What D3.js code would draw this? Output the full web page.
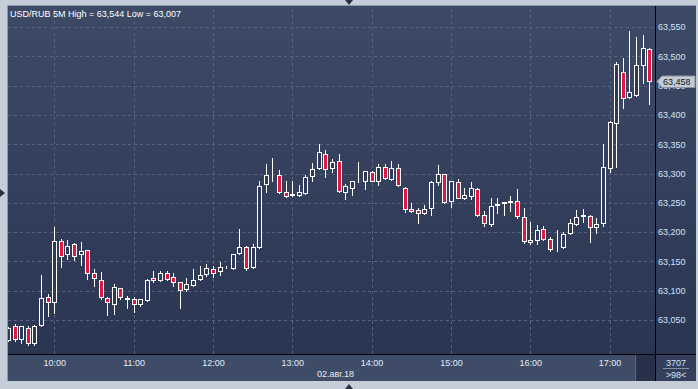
<!DOCTYPE html>
<html>
<head>
<meta charset="utf-8">
<script src="https://cdn.jsdelivr.net/npm/d3@7"></script>
<style>
  body { margin: 0; background: #c4cdd8; }
  svg { display: block; font-family: "Liberation Sans", Arial, sans-serif; }
</style>
</head>
<body>
<svg width="698" height="389"></svg>
<script>
// 5-minute candles, 02.08.2018, first one at 09:25
var opens  = [63.016,63.039,63.017,63.037,63.010,63.041,63.090,63.080,63.185,63.162,
              63.180,63.162,63.169,63.131,63.118,63.087,63.078,63.104,63.086,63.086,
              63.078,63.084,63.121,63.118,63.131,63.123,63.114,63.103,63.109,63.120,
              63.128,63.137,63.133,63.140,63.138,63.164,63.175,63.141,63.174,63.282,
              63.297,63.297,63.268,63.264,63.263,63.266,63.295,63.309,63.333,63.309,
              63.321,63.269,63.276,63.287,63.287,63.302,63.287,63.311,63.290,63.309,
              63.276,63.239,63.237,63.232,63.241,63.285,63.299,63.253,63.285,63.258,
              63.261,63.273,63.229,63.213,63.247,63.250,63.252,63.253,63.225,63.183,
              63.186,63.205,63.189,63.174,63.174,63.198,63.213,63.228,63.227,63.208,
              63.215,63.309,63.387,63.473,63.430,63.434,63.486,63.512];
var highs  = [63.038,63.043,63.040,63.040,63.041,63.127,63.094,63.209,63.189,63.186,
              63.181,63.183,63.170,63.137,63.132,63.090,63.111,63.105,63.091,63.089,
              63.086,63.120,63.134,63.134,63.133,63.131,63.115,63.121,63.137,63.142,
              63.146,63.142,63.149,63.143,63.163,63.206,63.176,63.180,63.288,63.316,
              63.326,63.306,63.288,63.288,63.280,63.297,63.318,63.351,63.340,63.324,
              63.334,63.282,63.288,63.319,63.305,63.304,63.317,63.317,63.321,63.316,
              63.277,63.249,63.241,63.246,63.288,63.314,63.300,63.287,63.290,63.276,
              63.285,63.275,63.236,63.258,63.258,63.252,63.261,63.273,63.241,63.217,
              63.212,63.210,63.191,63.203,63.200,63.222,63.237,63.239,63.229,63.224,
              63.350,63.390,63.491,63.497,63.544,63.533,63.536,63.514];
var lows   = [63.014,63.014,63.010,63.008,63.007,63.040,63.057,63.062,63.141,63.154,
              63.153,63.144,63.120,63.108,63.085,63.059,63.061,63.086,63.071,63.064,
              63.074,63.083,63.114,63.117,63.119,63.108,63.070,63.099,63.108,63.118,
              63.125,63.124,63.127,63.139,63.137,63.163,63.135,63.139,63.173,63.268,
              63.288,63.267,63.260,63.261,63.262,63.265,63.288,63.308,63.294,63.303,
              63.268,63.257,63.263,63.286,63.273,63.287,63.280,63.291,63.289,63.278,
              63.234,63.235,63.215,63.231,63.229,63.280,63.250,63.243,63.258,63.257,
              63.256,63.228,63.210,63.210,63.232,63.229,63.236,63.224,63.181,63.179,
              63.179,63.187,63.167,63.167,63.173,63.197,63.212,63.217,63.183,63.198,
              63.210,63.302,63.311,63.411,63.429,63.433,63.454,63.418];
var closes = [63.037,63.017,63.039,63.011,63.039,63.087,63.080,63.184,63.160,63.177,
              63.160,63.167,63.130,63.121,63.089,63.080,63.106,63.089,63.087,63.077,
              63.085,63.119,63.118,63.130,63.120,63.114,63.102,63.111,63.119,63.126,
              63.138,63.131,63.140,63.141,63.162,63.174,63.139,63.175,63.279,63.297,
              63.298,63.268,63.261,63.265,63.268,63.294,63.307,63.336,63.307,63.319,
              63.270,63.278,63.287,63.288,63.304,63.288,63.311,63.292,63.309,63.280,
              63.239,63.236,63.232,63.239,63.285,63.300,63.251,63.287,63.259,63.263,
              63.275,63.229,63.215,63.244,63.248,63.251,63.253,63.227,63.184,63.186,
              63.203,63.188,63.172,63.175,63.196,63.215,63.225,63.229,63.208,63.213,
              63.311,63.388,63.487,63.428,63.439,63.486,63.514,63.458];
var priceTicks = [63.05,63.10,63.15,63.20,63.25,63.30,63.35,63.40,63.45,63.50,63.55];
var startTime = new Date(2018, 7, 2, 9, 25);
var title = "USD/RUB 5M High = 63,544 Low = 63,007";
var dateLabel = "02.авг.18";
var barCount = "3707", visibleCount = ">98<";

var candles = opens.map(function(o, i) {
  return {t: d3.timeMinute.offset(startTime, 5 * i), o: o, h: highs[i], l: lows[i], c: closes[i]};
});
var lastClose = closes[closes.length - 1];

var W = 698, H = 389;
// panel edges (note: "top" is reserved on window, so prefixed names)
var pL = 8, pT = 6, pR = 696, pB = 381;
var plotRight = 655, plotBottom = 354;

var x = d3.scaleTime()
    .domain([candles[0].t, candles[candles.length - 1].t])
    .range([8, 649.2]);
var y = d3.scaleLinear().domain([63.05, 63.55]).range([320, 27]);

var ru = d3.formatLocale({decimal: ",", thousands: " ", grouping: [3], currency: ["", ""]});
var fmt = ru.format(".3f");

var svg = d3.select("svg");
var defs = svg.append("defs");
var grad = defs.append("linearGradient").attr("id", "bg").attr("x1", 0).attr("y1", 0).attr("x2", 0).attr("y2", 1);
grad.append("stop").attr("offset", "0%").attr("stop-color", "#3d4a66");
grad.append("stop").attr("offset", "100%").attr("stop-color", "#2a3552");
defs.append("clipPath").attr("id", "plotclip").append("rect")
    .attr("x", pL).attr("y", pT).attr("width", plotRight - pL).attr("height", plotBottom - pT);

// frame + panels
svg.append("rect").attr("width", W).attr("height", H).attr("fill", "#c4cdd8");
svg.append("rect").attr("x", pL - 1).attr("y", pT - 1).attr("width", pR - pL + 1).attr("height", pB - pT + 1)
    .attr("fill", "#8e9aab");
svg.append("rect").attr("x", pL).attr("y", pT).attr("width", pR - pL).attr("height", plotBottom - pT)
    .attr("fill", "url(#bg)");
svg.append("rect").attr("x", pL).attr("y", plotBottom).attr("width", plotRight - pL).attr("height", pB - plotBottom)
    .attr("fill", "#3f4c68");
svg.append("rect").attr("x", plotRight).attr("y", plotBottom).attr("width", pR - plotRight).attr("height", pB - plotBottom)
    .attr("fill", "#34405b");
svg.append("rect").attr("x", 636).attr("y", plotBottom + 1).attr("width", plotRight - 636).attr("height", pB - plotBottom - 1)
    .attr("fill", "#27314a");
svg.append("line").attr("x1", 635.5).attr("x2", 635.5).attr("y1", plotBottom + 2).attr("y2", pB - 1)
    .attr("stroke", "#5d6983");

// grid
var grid = svg.append("g").attr("clip-path", "url(#plotclip)");
grid.append("g")
    .attr("transform", "translate(0," + plotBottom + ")")
    .call(d3.axisBottom(x).ticks(d3.timeHour.every(1)).tickSize(-(plotBottom - pT)).tickFormat(""))
    .call(function(g) { g.select(".domain").remove(); });
grid.append("g")
    .attr("transform", "translate(" + pL + ",0)")
    .call(d3.axisRight(y).tickValues(priceTicks).tickSize(plotRight - pL).tickFormat(""))
    .call(function(g) { g.select(".domain").remove(); });
grid.selectAll(".tick line")
    .attr("stroke", "#56637f").attr("stroke-dasharray", "3,3").attr("shape-rendering", "crispEdges");

// candles
var cg = svg.append("g").attr("clip-path", "url(#plotclip)");
var cand = cg.selectAll(".candle").data(candles).enter().append("g").attr("class", "candle");
cand.append("line")
    .attr("x1", function(d) { return Math.round(x(d.t)) + 0.5; })
    .attr("x2", function(d) { return Math.round(x(d.t)) + 0.5; })
    .attr("y1", function(d) { return Math.round(y(d.h)); })
    .attr("y2", function(d) { return Math.round(y(d.l)) + 1; })
    .attr("stroke", "#ffffff").attr("stroke-width", 1);
cand.append("rect")
    .attr("x", function(d) { return Math.round(x(d.t)) - 1.5; })
    .attr("width", 4)
    .attr("y", function(d) { return Math.round(y(Math.max(d.o, d.c))) + 0.5; })
    .attr("height", function(d) { return Math.round(y(Math.min(d.o, d.c))) - Math.round(y(Math.max(d.o, d.c))); })
    .attr("fill", function(d) { return d.c < d.o ? "#e3173e" : "#2f3a56"; })
    .attr("stroke", "#ffffff").attr("stroke-width", 1);

// separators
svg.append("line").attr("x1", pL).attr("x2", pR).attr("y1", plotBottom + 0.5).attr("y2", plotBottom + 0.5)
    .attr("stroke", "#000");
svg.append("line").attr("x1", plotRight + 0.5).attr("x2", plotRight + 0.5).attr("y1", pT).attr("y2", pB)
    .attr("stroke", "#000");

// price axis
var ya = svg.append("g").attr("transform", "translate(" + (plotRight + 3) + ",0)")
    .call(d3.axisRight(y).tickValues(priceTicks).tickSize(0).tickFormat(fmt));
ya.select(".domain").remove();
ya.selectAll("text").attr("x", 0).attr("fill", "#d3e4f6").attr("font-size", 9)
    .attr("font-family", "'Liberation Sans', Arial, sans-serif");

// time axis
var xa = svg.append("g").attr("transform", "translate(0," + (plotBottom + 3) + ")")
    .call(d3.axisBottom(x).ticks(d3.timeHour.every(1)).tickSize(0).tickFormat(d3.timeFormat("%H:%M")));
xa.select(".domain").remove();
xa.selectAll("text").attr("fill", "#e3ebf5").attr("font-size", 9)
    .attr("font-family", "'Liberation Sans', Arial, sans-serif");

svg.append("text").attr("x", 317).attr("y", 377).attr("fill", "#e3ebf5").attr("font-size", 9).text(dateLabel);

// corner counters
svg.append("text").attr("x", 676).attr("y", 366).attr("text-anchor", "middle").attr("fill", "#d3e4f6")
    .attr("font-size", 9).text(barCount);
svg.append("line").attr("x1", 663).attr("x2", 689).attr("y1", 368.5).attr("y2", 368.5).attr("stroke", "#8391aa");
svg.append("text").attr("x", 676).attr("y", 378).attr("text-anchor", "middle").attr("fill", "#d3e4f6")
    .attr("font-size", 9).text(visibleCount);

// last price tag
var ly = Math.round(y(lastClose)) + 0.5;
svg.append("path")
    .attr("d", "M657," + ly + " L662," + (ly - 5.5) + " L695," + (ly - 5.5) + " L695," + (ly + 6) + " L662," + (ly + 6) + " Z")
    .attr("fill", "#c6cbd3").attr("stroke", "#8a93a3");
svg.append("text").attr("x", 663).attr("y", ly + 3.5).attr("fill", "#111820").attr("font-size", 9).text(fmt(lastClose));

// title
svg.append("text").attr("x", 10).attr("y", 17).attr("fill", "#ffffff").attr("font-size", 9).text(title);

// scroll markers
svg.append("path").attr("d", "M345,0 L353,0 L349,5 Z").attr("fill", "#2a3242");
svg.append("path").attr("d", "M345,389 L353,389 L349,384 Z").attr("fill", "#2a3242");
svg.append("path").attr("d", "M0,189 L0,197 L5,193 Z").attr("fill", "#2a3242");
</script>
</body>
</html>
